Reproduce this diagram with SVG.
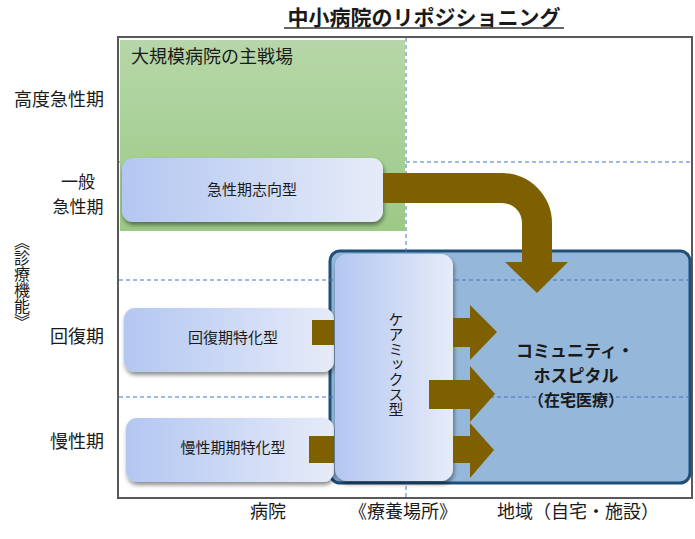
<svg xmlns="http://www.w3.org/2000/svg" width="695" height="539" viewBox="0 0 695 539">
<defs>
<linearGradient id="gBox" x1="0" y1="0" x2="1" y2="0">
<stop offset="0" stop-color="#b3c7f1"/>
<stop offset="1" stop-color="#e6ebf8"/>
</linearGradient>
<linearGradient id="gGreen" x1="0" y1="0" x2="0" y2="1">
<stop offset="0" stop-color="#b6d7a8"/>
<stop offset="1" stop-color="#9cc986"/>
</linearGradient>
<filter id="sh" x="-10%" y="-10%" width="125%" height="135%">
<feDropShadow dx="1" dy="3" stdDeviation="2" flood-color="#000" flood-opacity="0.45"/>
</filter>
<style>
text{font-family:"Noto Sans CJK JP","Noto Sans",sans-serif;fill:#1a1a1a}
.lbl{font-size:18px}
.box{font-size:15px;text-anchor:middle}
.dash{stroke:#4472c4;stroke-width:1;stroke-dasharray:4 3;fill:none}
.rbox{fill:url(#gBox);filter:url(#sh)}
.arr{fill:#7f6000}
.bold{font-weight:bold;font-size:17px;text-anchor:middle}
.vert{writing-mode:vertical-rl}
</style>
</defs>
<rect width="695" height="539" fill="#fff"/>
<g id="title">
<text x="424" y="25" style="font-size:21px;font-weight:bold" text-anchor="middle">中小病院のリポジショニング</text>
<line x1="284" y1="28" x2="564" y2="28" stroke="#333" stroke-width="1.5"/>
</g>
<g id="frame">
<rect x="118" y="37" width="574" height="461" fill="#fff" stroke="#595959" stroke-width="2"/>
</g>
<g id="community">
<rect x="330" y="251" width="360" height="232" rx="10" fill="#95b8da" stroke="#1f4e79" stroke-width="3"/>
</g>
<g id="gridlines">
<line class="dash" x1="406" y1="38" x2="406" y2="497"/>
<line class="dash" x1="119" y1="162" x2="691" y2="162"/>
<line class="dash" x1="119" y1="280" x2="691" y2="280"/>
<line class="dash" x1="119" y1="397" x2="691" y2="397"/>
</g>
<g id="large-hospital">
<rect x="120" y="40" width="285" height="191" fill="url(#gGreen)"/>
<text class="lbl" x="131" y="63">大規模病院の主戦場</text>
</g>
<g id="row-labels">
<text class="lbl" x="104" y="106" text-anchor="end">高度急性期</text>
<text class="lbl" x="78" y="188" text-anchor="middle" style="font-size:17px">一般</text>
<text class="lbl" x="78" y="213" text-anchor="middle" style="font-size:17px">急性期</text>
<text class="lbl" x="104" y="343" text-anchor="end">回復期</text>
<text class="lbl" x="104" y="448" text-anchor="end">慢性期</text>
<text class="vert" x="22" y="234" style="font-size:16px">︽診療機能︾</text>
</g>
<g id="col-labels">
<text class="lbl" x="268" y="518" text-anchor="middle">病院</text>
<text class="lbl" x="403" y="518" text-anchor="middle">《療養場所》</text>
<text class="lbl" x="578" y="518" text-anchor="middle">地域（自宅・施設）</text>
</g>
<g id="acute">
<rect class="rbox" x="122" y="158" width="261" height="64" rx="11"/>
<text class="box" x="252" y="195">急性期志向型</text>
</g>
<g id="recovery">
<rect class="rbox" x="124" y="308" width="210" height="64" rx="11"/>
<text class="box" x="233" y="343">回復期特化型</text>
</g>
<g id="chronic">
<rect class="rbox" x="126" y="418" width="208" height="64" rx="11"/>
<text class="box" x="233" y="453">慢性期期特化型</text>
</g>
<g id="connectors">
<rect class="arr" x="312" y="320" width="22" height="25"/>
<rect class="arr" x="309" y="436" width="25" height="27"/>
</g>
<g id="caremix">
<rect class="rbox" x="335" y="254" width="118" height="227" rx="12"/>
<text class="box vert" x="396" y="312" style="text-anchor:start">ケアミックス型</text>
</g>
<g id="arrows">
<path class="arr" d="M383,173 L502,173 A50,50 0 0 1 552,223 L552,262 L568,262 L537,293 L505,262 L522,262 L522,223 A20,20 0 0 0 502,203 L383,203 Z"/>
<path class="arr" d="M453,318 L470,318 L470,305 L497,332 L470,360 L470,347 L453,347 Z"/>
<path class="arr" d="M429,380 L470,380 L470,366 L495,394 L470,422 L470,409 L429,409 Z"/>
<path class="arr" d="M453,436 L470,436 L470,423 L494,450 L470,478 L470,463 L453,463 Z"/>
</g>
<g id="community-label">
<text class="bold" x="575" y="357">コミュニティ・</text>
<text class="bold" x="576" y="382">ホスピタル</text>
<text class="bold" x="576" y="406" style="font-size:16px">（在宅医療）</text>
</g>
</svg>
